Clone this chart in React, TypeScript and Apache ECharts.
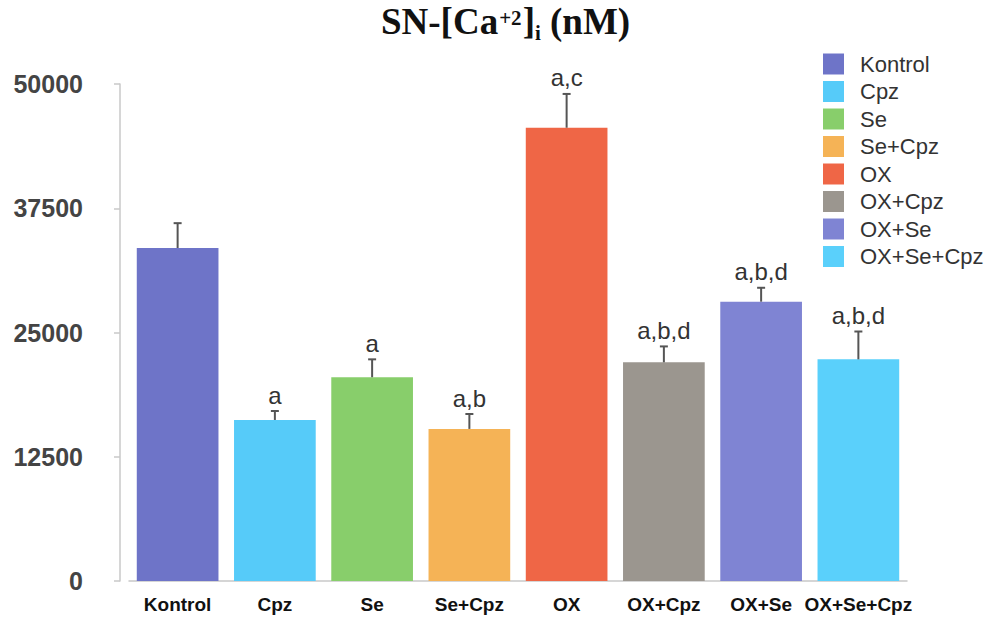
import React, { useEffect, useRef } from "react";
import * as echarts from "echarts";

// Groups, means (nM), SEM and significance marks
const categories = ["Kontrol", "Cpz", "Se", "Se+Cpz", "OX", "OX+Cpz", "OX+Se", "OX+Se+Cpz"];
const means = [33500, 16200, 20500, 15300, 45600, 22000, 28100, 22300];
const errors = [2500, 900, 1800, 1500, 3400, 1600, 1400, 2800];
const sigLabels = ["", "a", "a", "a,b", "a,c", "a,b,d", "a,b,d", "a,b,d"];
const colors = ["#6E74C8", "#56CBF9", "#88CE6B", "#F5B356", "#EF6646", "#9B968F", "#7F84D3", "#5AD0FB"];
const yTicks = { min: 0, max: 50000, interval: 12500 };

const SANS = "'Liberation Sans', Arial, Helvetica, sans-serif";
const SERIF = "'Liberation Serif', 'Times New Roman', serif";

export default function App() {
  const ref = useRef<HTMLDivElement>(null);

  useEffect(() => {
    if (!ref.current) return;
    const chart = echarts.init(ref.current, null, { renderer: "svg" });

    const barSeries = categories.map((name, i) => ({
      name,
      type: "bar",
      stack: "groups",
      barWidth: "84%",
      itemStyle: { color: colors[i] },
      data: categories.map((_, j) => (j === i ? means[i] : "-")),
    }));

    // upper SEM whisker with cap, plus the significance letters above it
    const errorSeries = {
      type: "custom",
      name: "sem",
      z: 5,
      encode: { x: 0, y: 1 },
      data: means.map((m, i) => [i, m, errors[i]]),
      renderItem: (params: any, api: any) => {
        const idx = api.value(0);
        const base = api.coord([idx, api.value(1)]);
        const top = api.coord([idx, api.value(1) + api.value(2)]);
        const cap = 4;
        const lineStyle = { stroke: "#555", lineWidth: 2 };
        return {
          type: "group",
          children: [
            { type: "line", shape: { x1: base[0], y1: base[1], x2: top[0], y2: top[1] }, style: lineStyle },
            { type: "line", shape: { x1: top[0] - cap, y1: top[1], x2: top[0] + cap, y2: top[1] }, style: lineStyle },
            {
              type: "text",
              x: top[0],
              y: top[1] - 4,
              style: {
                text: sigLabels[params.dataIndex],
                align: "center",
                verticalAlign: "bottom",
                fontFamily: SANS,
                fontSize: 24,
                fill: "#333",
              },
            },
          ],
        };
      },
    };

    chart.setOption({
      animation: false,
      backgroundColor: "#ffffff",
      title: {
        text: "{m|SN-[Ca}{sup|+2}{m|]}{sub|i}{m| (nM)}",
        left: 381,
        top: -1,
        padding: 0,
        textStyle: {
          rich: {
            m: { fontFamily: SERIF, fontWeight: "bold", fontSize: 37, lineHeight: 44, color: "#111" },
            sup: { fontFamily: SERIF, fontWeight: "bold", fontSize: 21, lineHeight: 44, verticalAlign: "top", padding: [8, 1, 0, 1], color: "#111" },
            sub: { fontFamily: SERIF, fontWeight: "bold", fontSize: 21, lineHeight: 44, verticalAlign: "bottom", color: "#111" },
          },
        },
      },
      legend: {
        orient: "vertical",
        left: 823,
        top: 53,
        padding: 0,
        itemWidth: 21,
        itemHeight: 21,
        itemGap: 5.5,
        icon: "rect",
        data: categories,
        textStyle: { fontFamily: SANS, fontSize: 22, color: "#333", padding: [0, 0, 0, 11] },
      },
      grid: { left: 129, right: 91, top: 84, bottom: 42, containLabel: false },
      xAxis: {
        type: "category",
        data: categories,
        axisLine: { lineStyle: { color: "#c8c8c8", width: 1.5 } },
        axisTick: { show: false },
        axisLabel: {
          interval: 0,
          margin: 14,
          fontFamily: SANS,
          fontWeight: "bold",
          fontSize: 19,
          color: "#111",
        },
      },
      yAxis: {
        type: "value",
        min: yTicks.min,
        max: yTicks.max,
        interval: yTicks.interval,
        offset: 9,
        axisLine: { show: true, lineStyle: { color: "#c8c8c8", width: 1.5 } },
        axisTick: { show: true, length: 6, lineStyle: { color: "#c8c8c8", width: 1.5 } },
        splitLine: { show: false },
        axisLabel: {
          margin: 37,
          formatter: (v: number) => String(v),
          fontFamily: SANS,
          fontWeight: "bold",
          fontSize: 25,
          color: "#444",
        },
      },
      series: [...barSeries, errorSeries],
    });

    return () => chart.dispose();
  }, []);

  return <div ref={ref} style={{ width: 998, height: 623, position: "absolute", left: 0, top: 0 }} />;
}
